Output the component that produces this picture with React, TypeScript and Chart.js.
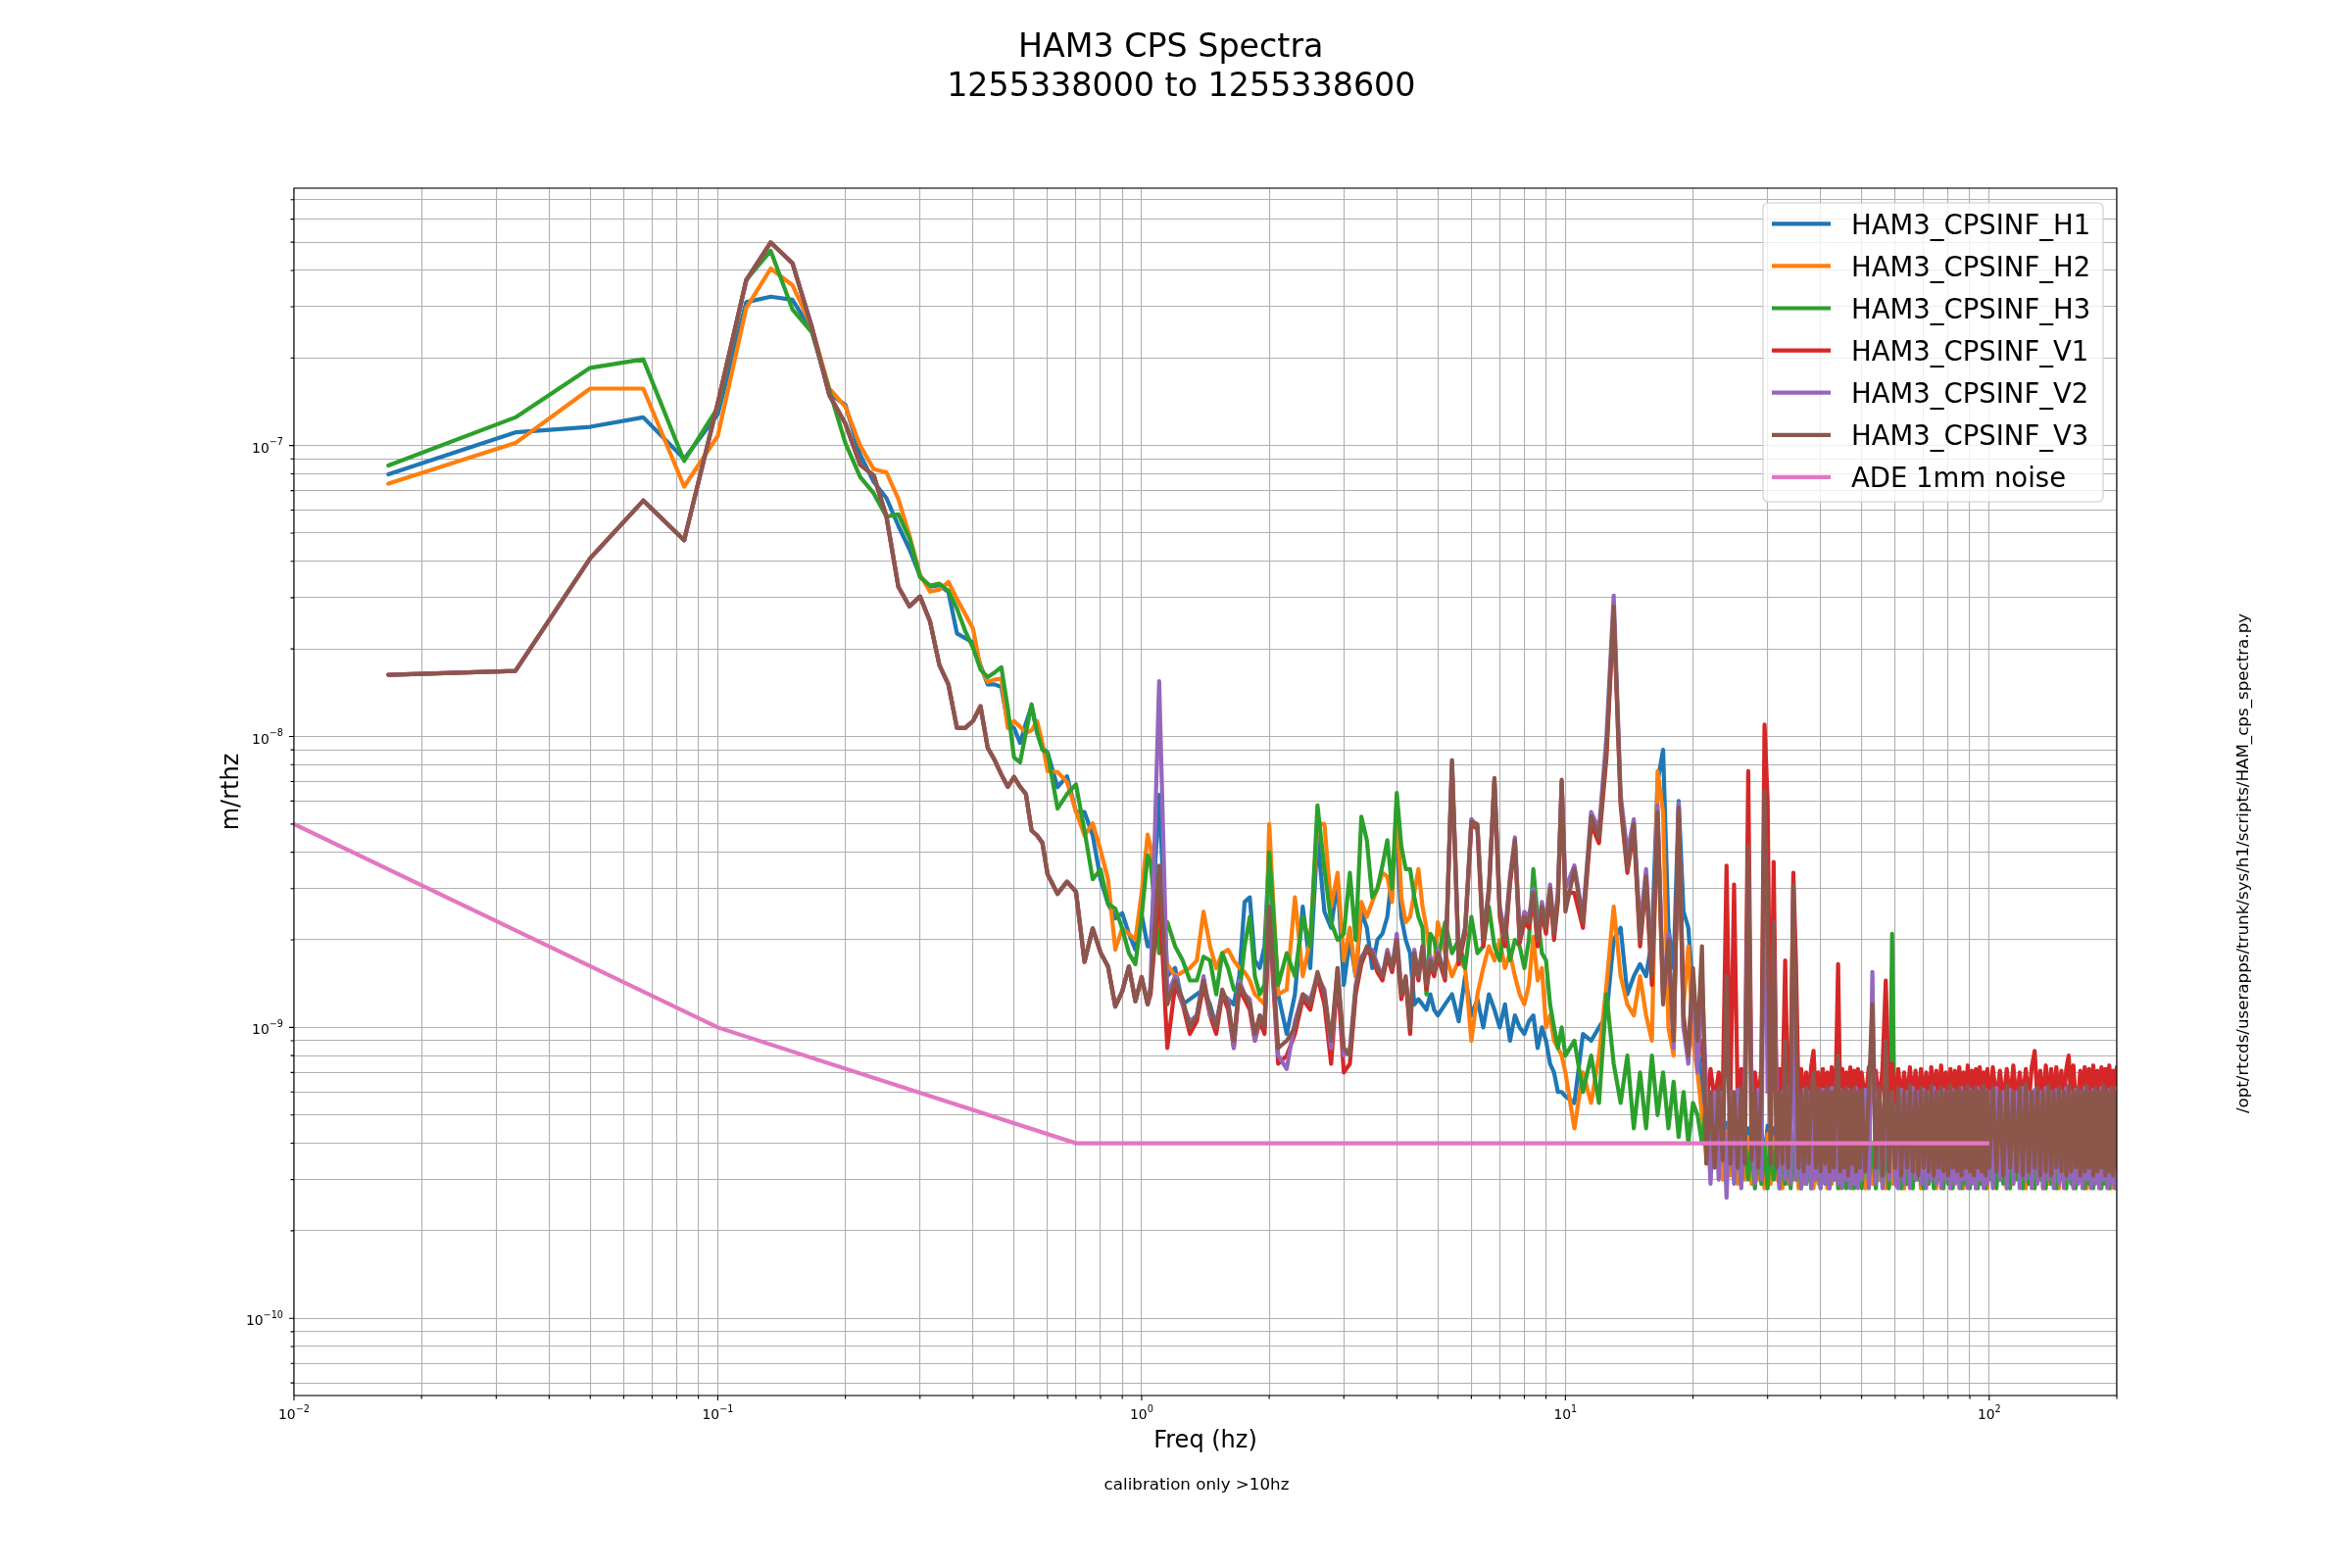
import React, { useEffect, useRef } from 'react';
import { Chart, registerables } from 'chart.js';

Chart.register(...registerables);

// ---------------- data (values in nm/rtHz, i.e. 1e-9 m/rtHz) ----------------
const FREQ_LOW = [
  0.0167, 0.0333, 0.05, 0.0667, 0.0833, 0.1, 0.1167, 0.1333, 0.15, 0.1667,
  0.1833, 0.2, 0.2167, 0.2333, 0.25, 0.2667, 0.2833, 0.3, 0.3167, 0.3333,
  0.35, 0.3667, 0.3833, 0.4, 0.4167, 0.4333, 0.45, 0.4667, 0.4833, 0.5,
  0.5167, 0.5333, 0.55, 0.5667, 0.5833, 0.6,
  0.6333, 0.6667, 0.7, 0.7333, 0.7667, 0.8, 0.8333, 0.8667, 0.9, 0.9333, 0.9667, 1.0, 1.0333,
];
const FREQ_MID = [
  1.05, 1.1, 1.15, 1.2, 1.25, 1.3, 1.35, 1.4, 1.45, 1.5,
  1.55, 1.6, 1.65, 1.7, 1.75, 1.8, 1.85, 1.9, 1.95, 2.0,
  2.1, 2.2, 2.3, 2.4, 2.5, 2.6, 2.7, 2.8, 2.9, 3.0,
  3.1, 3.2, 3.3, 3.4, 3.5, 3.6, 3.7, 3.8, 3.9, 4.0,
  4.1, 4.2, 4.3, 4.4, 4.5, 4.6, 4.7, 4.8, 4.9, 5.0,
  5.2, 5.4, 5.6, 5.8, 6.0, 6.2, 6.4, 6.6, 6.8, 7.0,
  7.2, 7.4, 7.6, 7.8, 8.0, 8.2, 8.4, 8.6, 8.8, 9.0,
  9.2, 9.4, 9.6, 9.8, 10.0,
];
const FREQ_HIGH = [
  10.5, 11, 11.5, 12, 12.5, 13, 13.5, 14, 14.5, 15,
  15.5, 16, 16.5, 17, 17.5, 18, 18.5, 19, 19.5, 20,
  20.5, 21, 21.5, 22, 22.5, 23, 23.5, 24, 24.5, 25,
  25.5, 26, 26.5, 27, 27.5, 28, 28.5, 29, 29.5, 30,
  30.5, 31, 31.5, 32, 32.5, 33, 33.5, 34, 34.5, 35,
  35.5, 36, 36.5, 37, 37.5, 38, 38.5, 39, 39.5, 40,
  40.5, 41, 41.5, 42, 42.5, 43, 43.5, 44, 44.5, 45,
  45.5, 46, 46.5, 47, 47.5, 48, 48.5, 49, 49.5, 50,
  51, 52, 53, 54, 55, 56, 57, 58, 59, 60,
  61, 62, 63, 64, 65, 66, 67, 68, 69, 70,
  71, 72, 73, 74, 75, 76, 77, 78, 79, 80,
  81, 82, 83, 84, 85, 86, 87, 88, 89, 90,
  91, 92, 93, 94, 95, 96, 97, 98, 99, 100,
  102, 104, 106, 108, 110, 112, 114, 116, 118, 120,
  122, 124, 126, 128, 130, 132, 134, 136, 138, 140,
  142, 144, 146, 148, 150, 152, 154, 156, 158, 160,
  162, 164, 166, 168, 170, 172, 174, 176, 178, 180,
  182, 184, 186, 188, 190, 192, 194, 196, 198, 200,
];

const H1_LOW = [
  79.7, 111, 116, 125, 90, 128, 311, 325, 317, 248,
  151, 138, 93, 75, 66, 53, 44, 35.6, 32.7, 33.1,
  31.4, 22.6, 21.8, 21, 17.6, 15.1, 15.1, 14.8, 11.1, 10.7,
  9.5, 11.1, 12.7, 10.3, 9.15, 8.8,
  6.7, 7.3, 5.5, 5.5, 4.57, 3.23, 2.66, 2.37, 2.47, 2.1, 1.85, 2.45, 1.9,
];
const H2_LOW = [
  74, 102, 157, 157, 72.3, 108, 297, 406, 356, 255,
  157, 136, 100, 83, 80.9, 65.5, 49, 36, 31.5, 32,
  34, 29.7, 26.4, 23.5, 17.3, 15.4, 15.7, 15.8, 10.7, 11.3,
  10.8, 10.3, 10.5, 11.3, 9.5, 7.6,
  7.55, 6.98, 5.54, 4.57, 5.03, 4.07, 3.23, 1.85, 2.19, 2.1, 2.0, 2.9, 4.6,
];
const H3_LOW = [
  85.4, 125, 185, 198, 88.5, 135, 371, 467, 294, 245,
  155, 102, 78, 68.5, 57, 58, 48, 35.3, 33, 33.5,
  31.7, 27.5, 23.1, 20.2, 17, 16, 16.6, 17.3, 12.5, 8.47,
  8.15, 10.3, 12.9, 10.3, 9.0, 8.8,
  5.65, 6.34, 6.85, 4.75, 3.23, 3.49, 2.66, 2.56, 2.19, 1.8, 1.65, 2.4, 3.9,
];
const V_LOW = [
  16.3, 16.8, 41, 64.7, 47.3, 140, 370, 499, 424, 255,
  149, 119, 86, 79, 57, 32.7, 28, 30.3, 24.9, 17.6,
  15.1, 10.7, 10.7, 11.3, 12.7, 9.15, 8.3, 7.4, 6.72, 7.26,
  6.72, 6.34, 4.75, 4.57, 4.31, 3.36,
  2.88, 3.17, 2.93, 1.68, 2.19, 1.81, 1.62, 1.18, 1.33, 1.62, 1.23, 1.49, 1.2,
];

const H1_MID = [
  1.9, 6.3, 1.5, 1.6, 1.2, 1.25, 1.3, 1.35, 1.2, 1.0,
  1.3, 1.25, 1.2, 1.5, 2.7, 2.8, 1.7, 1.6, 1.9, 4.0,
  1.3, 0.95, 1.3, 2.6, 1.6, 4.5, 2.5, 2.2, 3.2, 1.4,
  2.0, 1.5, 2.5, 2.2, 1.6, 2.0, 2.1, 2.4, 3.4, 4.4,
  2.4, 2.0, 1.8, 1.2, 1.25, 1.2, 1.15, 1.3, 1.15, 1.1,
  1.2, 1.3, 1.05, 1.5, 1.1, 1.25, 1.0, 1.3, 1.15, 1.0,
  1.2, 0.9, 1.1, 1.0, 0.95, 1.05, 1.1, 0.85, 1.0, 0.9,
  0.75, 0.7, 0.6, 0.6, 0.58,
];
const H2_MID = [
  4.2, 2.0, 1.65, 1.5, 1.55, 1.6, 1.7, 2.5, 1.9, 1.6,
  1.8, 1.85, 1.7, 1.6, 1.55, 1.45, 1.3, 1.25, 1.2, 5.0,
  1.3, 1.35, 2.8, 1.5, 2.0, 5.0, 5.0, 2.6, 3.4, 1.7,
  2.2, 1.5, 2.7, 2.4, 2.7, 3.0, 3.4, 3.3, 2.7, 6.0,
  2.8, 2.3, 2.4, 2.9, 3.5, 2.6, 2.2, 1.7, 1.6, 2.3,
  1.8, 1.5, 1.7, 1.6, 0.9, 1.3, 1.6, 1.9, 1.7, 2.0,
  1.6, 1.8, 1.5, 1.3, 1.2, 1.4, 2.05, 1.45, 1.6, 1.0,
  1.1, 0.9, 0.85, 0.8, 0.7,
];
const H3_MID = [
  3.7, 1.8, 2.3, 1.9, 1.7, 1.45, 1.45, 1.75, 1.7, 1.3,
  1.8, 1.6, 1.35, 1.3, 1.9, 2.4, 1.5, 1.3, 1.4, 4.0,
  1.4, 1.8, 1.5, 2.4, 1.9, 5.8, 3.5, 2.3, 2.0, 2.1,
  3.4, 2.0, 5.3, 4.4, 2.8, 3.0, 3.6, 4.4, 3.0, 6.4,
  4.2, 3.5, 3.5, 2.8, 2.4, 2.2, 1.3, 2.1, 2.0, 1.7,
  2.3, 1.8, 2.0, 1.6, 2.4, 1.8, 1.9, 2.6, 1.9, 1.7,
  2.3, 1.7, 2.0, 1.9, 1.6, 2.0, 3.5, 2.4, 1.8, 1.7,
  1.2, 1.0, 0.85, 1.0, 0.8,
];
const V1_MID = [
  1.3, 3.0, 0.85, 1.4, 1.2, 0.95, 1.05, 1.4, 1.1, 0.95,
  1.3, 1.15, 0.85, 1.35, 1.25, 1.15, 0.9, 1.05, 0.95, 2.4,
  0.75, 0.8, 0.95, 1.25, 1.15, 1.5, 1.2, 0.75, 1.5, 0.7,
  0.75, 1.3, 1.65, 1.85, 1.75, 1.55, 1.45, 1.75, 1.55, 1.9,
  1.25, 1.45, 0.95, 1.75, 1.45, 1.85, 1.35, 1.65, 1.5, 1.75,
  1.45, 8.0, 1.65, 2.1, 5.0, 4.8, 1.9, 2.9, 7.0, 2.4,
  1.9, 3.1, 4.3, 1.95, 2.3, 2.2, 2.8, 1.9, 2.5, 2.1,
  2.9, 2.0, 2.7, 6.9, 2.9,
];
const V2_MID = [
  1.4, 15.5, 1.3, 1.5, 1.2, 1.05, 1.1, 1.5, 1.1, 1.05,
  1.3, 1.25, 0.85, 1.45, 1.3, 1.25, 0.9, 1.1, 1.05, 2.5,
  0.8, 0.72, 1.05, 1.3, 1.25, 1.5, 1.35, 0.85, 1.6, 0.8,
  0.85, 1.4, 1.75, 1.85, 1.85, 1.65, 1.5, 1.85, 1.6, 2.1,
  1.35, 1.45, 1.05, 1.85, 1.5, 1.9, 1.45, 1.75, 1.6, 1.85,
  1.5, 8.2, 1.75, 2.2, 5.2, 4.9, 2.1, 3.0, 7.1, 2.6,
  2.1, 3.3, 4.5, 2.1, 2.5, 2.4, 3.0, 2.1, 2.7, 2.3,
  3.1, 2.2, 2.9, 7.0, 3.0,
];
const V3_MID = [
  1.35, 3.6, 1.2, 1.45, 1.25, 1.0, 1.1, 1.45, 1.15, 1.0,
  1.35, 1.2, 0.9, 1.4, 1.3, 1.2, 0.95, 1.1, 1.0, 2.6,
  0.85, 0.9, 1.0, 1.3, 1.2, 1.55, 1.3, 0.9, 1.6, 0.85,
  0.8, 1.35, 1.7, 1.9, 1.8, 1.6, 1.5, 1.8, 1.6, 2.0,
  1.3, 1.5, 1.0, 1.8, 1.5, 1.9, 1.4, 1.7, 1.55, 1.8,
  1.5, 8.3, 1.7, 2.2, 5.1, 5.0, 2.0, 3.0, 7.2, 2.5,
  2.0, 3.2, 4.4, 2.0, 2.4, 2.3, 2.9, 2.0, 2.6, 2.2,
  3.0, 2.1, 2.8, 7.1, 2.5,
];

const H1_HIGH = [
  0.55, 0.95, 0.9, 1.0, 1.1, 2.0, 2.2, 1.3, 1.5, 1.65,
  1.5, 2.0, 7.0, 9.0, 2.2, 1.6, 6.0, 2.5, 2.2, 1.3,
  0.9, 0.6, 0.42, 0.5, 0.38, 0.48, 0.36, 0.47, 0.34, 0.46,
  0.33, 0.47, 0.34, 0.45, 0.33, 0.46, 0.32, 0.45, 0.34, 0.46,
  0.33, 0.45, 0.32, 0.46, 0.33, 0.44, 0.32, 0.45, 0.33, 0.44,
  0.32, 0.45, 0.31, 0.44, 0.33, 0.45, 0.32, 0.44, 0.31, 0.45,
  0.32, 0.44, 0.33, 0.45, 0.31, 0.44, 0.32, 0.45, 0.3, 0.44,
  0.31, 0.45, 0.32, 0.44, 0.3, 0.45, 0.31, 0.44, 0.32, 0.45,
  0.31, 0.44, 0.32, 0.45, 0.3, 0.44, 0.31, 0.45, 0.32, 0.44,
  0.3, 0.45, 0.31, 0.44, 0.32, 0.45, 0.3, 0.44, 0.31, 0.45,
  0.32, 0.44, 0.3, 0.45, 0.31, 0.44, 0.32, 0.45, 0.3, 0.44,
  0.31, 0.45, 0.32, 0.44, 0.3, 0.45, 0.31, 0.44, 0.32, 0.45,
  0.3, 0.44, 0.31, 0.45, 0.32, 0.44, 0.3, 0.45, 0.31, 0.44,
  0.32, 0.45, 0.3, 0.44, 0.31, 0.45, 0.32, 0.44, 0.3, 0.45,
  0.31, 0.44, 0.32, 0.45, 0.3, 0.44, 0.31, 0.45, 0.32, 0.44,
  0.3, 0.45, 0.31, 0.44, 0.32, 0.45, 0.3, 0.44, 0.31, 0.45,
  0.32, 0.44, 0.3, 0.45, 0.31, 0.44, 0.32, 0.45, 0.3, 0.44,
  0.31, 0.45, 0.32, 0.44, 0.3, 0.45, 0.31, 0.44, 0.32, 0.45,
];
const H2_HIGH = [
  0.45, 0.7, 0.55, 0.8, 1.4, 2.6, 1.5, 1.2, 1.1, 1.5,
  1.1, 0.9, 7.6, 5.5, 1.0, 0.8, 5.3, 1.2, 1.9, 0.9,
  0.7, 0.5, 0.36, 0.48, 0.33, 0.45, 0.3, 0.44, 0.31, 0.43,
  0.29, 0.44, 0.3, 0.42, 0.29, 0.43, 0.3, 0.42, 0.28, 0.43,
  0.29, 0.42, 0.3, 0.43, 0.28, 0.42, 0.29, 0.43, 0.3, 0.42,
  0.28, 0.43, 0.29, 0.42, 0.3, 0.43, 0.28, 0.42, 0.29, 0.43,
  0.3, 0.42, 0.28, 0.43, 0.29, 0.42, 0.3, 0.43, 0.28, 0.42,
  0.29, 0.43, 0.3, 0.42, 0.28, 0.43, 0.29, 0.42, 0.3, 0.43,
  0.28, 0.42, 0.29, 0.43, 0.3, 0.42, 0.28, 0.43, 0.29, 0.42,
  0.3, 0.43, 0.28, 0.42, 0.29, 0.43, 0.3, 0.42, 0.28, 0.43,
  0.29, 0.42, 0.3, 0.43, 0.28, 0.42, 0.29, 0.43, 0.3, 0.42,
  0.28, 0.43, 0.29, 0.42, 0.3, 0.43, 0.28, 0.42, 0.29, 0.43,
  0.3, 0.42, 0.28, 0.43, 0.29, 0.42, 0.3, 0.43, 0.28, 0.42,
  0.29, 0.43, 0.3, 0.42, 0.28, 0.43, 0.29, 0.42, 0.3, 0.43,
  0.28, 0.42, 0.29, 0.43, 0.3, 0.42, 0.28, 0.43, 0.29, 0.42,
  0.3, 0.43, 0.28, 0.42, 0.29, 0.43, 0.3, 0.42, 0.28, 0.43,
  0.29, 0.42, 0.3, 0.43, 0.28, 0.42, 0.29, 0.43, 0.3, 0.42,
  0.28, 0.43, 0.29, 0.42, 0.3, 0.43, 0.28, 0.42, 0.29, 0.43,
];
const H3_HIGH = [
  0.9, 0.6, 0.8, 0.55, 1.3, 0.75, 0.55, 0.8, 0.45, 0.7,
  0.45, 0.8, 0.5, 0.7, 0.45, 0.65, 0.42, 0.6, 0.4, 0.55,
  0.5, 0.4, 0.55, 0.36, 0.5, 0.33, 0.45, 0.31, 0.42, 0.3,
  0.41, 0.29, 0.42, 0.3, 0.4, 0.28, 0.41, 0.29, 0.4, 0.28,
  0.41, 0.3, 0.4, 0.28, 0.41, 0.29, 0.4, 0.28, 0.41, 0.3,
  0.4, 0.28, 0.41, 0.29, 0.4, 0.28, 0.41, 0.3, 0.4, 0.28,
  0.41, 0.29, 0.4, 0.28, 0.41, 0.3, 0.4, 0.28, 0.41, 0.29,
  0.4, 0.28, 0.41, 0.3, 0.4, 0.28, 0.41, 0.29, 0.4, 0.28,
  0.41, 0.3, 0.4, 0.28, 0.41, 0.29, 0.4, 0.28, 2.1, 0.3,
  0.4, 0.28, 0.41, 0.29, 0.4, 0.28, 0.41, 0.3, 0.4, 0.28,
  0.41, 0.29, 0.4, 0.28, 0.41, 0.3, 0.4, 0.28, 0.41, 0.29,
  0.4, 0.28, 0.41, 0.3, 0.4, 0.28, 0.41, 0.29, 0.4, 0.28,
  0.41, 0.3, 0.4, 0.28, 0.41, 0.29, 0.4, 0.28, 0.41, 0.3,
  0.4, 0.28, 0.41, 0.29, 0.4, 0.28, 0.41, 0.3, 0.4, 0.28,
  0.41, 0.29, 0.4, 0.28, 0.41, 0.3, 0.4, 0.28, 0.41, 0.29,
  0.4, 0.28, 0.41, 0.3, 0.4, 0.28, 0.41, 0.29, 0.4, 0.28,
  0.41, 0.3, 0.4, 0.28, 0.41, 0.29, 0.4, 0.28, 0.41, 0.3,
  0.4, 0.28, 0.41, 0.29, 0.4, 0.28, 0.41, 0.3, 0.4, 0.28,
];
const V1_HIGH = [
  2.9, 2.2, 5.0, 4.3, 8.5, 27, 5.8, 3.4, 4.8, 1.9,
  3.2, 1.4, 5.3, 1.3, 1.9, 0.95, 5.5, 1.0, 0.85, 1.5,
  0.8, 0.9, 0.55, 0.72, 0.56, 0.7, 0.55, 3.6, 0.56, 3.1,
  0.55, 0.72, 0.56, 7.6, 0.55, 0.7, 0.56, 0.72, 11.0, 6.0,
  0.55, 3.7, 0.56, 0.72, 0.55, 1.7, 0.56, 0.7, 3.4, 1.65,
  0.55, 0.72, 0.56, 0.7, 0.55, 0.73, 0.83, 0.56, 0.7, 0.55,
  0.72, 0.56, 0.7, 0.55, 0.73, 0.56, 0.71, 1.65, 0.55, 0.72,
  0.56, 0.7, 0.55, 0.73, 0.56, 0.71, 0.55, 0.72, 0.56, 0.7,
  0.55, 0.73, 0.56, 0.71, 0.55, 0.72, 1.45, 0.56, 0.75, 0.55,
  0.72, 0.56, 0.7, 0.55, 0.73, 0.56, 0.71, 0.55, 0.72, 0.56,
  0.7, 0.55, 0.73, 0.56, 0.71, 0.55, 0.74, 0.56, 0.7, 0.55,
  0.72, 0.56, 0.71, 0.55, 0.73, 0.56, 0.7, 0.55, 0.74, 0.56,
  0.71, 0.55, 0.72, 0.56, 0.73, 0.55, 0.7, 0.56, 0.72, 0.55,
  0.73, 0.56, 0.71, 0.55, 0.72, 0.56, 0.74, 0.55, 0.7, 0.56,
  0.72, 0.55, 0.73, 0.83, 0.56, 0.71, 0.55, 0.74, 0.56, 0.72,
  0.55, 0.73, 0.56, 0.71, 0.55, 0.72, 0.8, 0.56, 0.74, 0.55,
  0.56, 0.71, 0.55, 0.73, 0.56, 0.72, 0.55, 0.74, 0.56, 0.71,
  0.55, 0.73, 0.56, 0.72, 0.55, 0.74, 0.56, 0.71, 0.55, 0.73,
];
const V2_HIGH = [
  3.6, 2.4, 5.5, 4.8, 10.0, 30.5, 6.3, 4.0, 5.2, 2.2,
  3.5, 1.6, 5.8, 1.3, 2.1, 0.85, 5.9, 1.0, 0.75, 1.5,
  0.7, 1.5, 0.6, 0.29, 0.6, 0.3, 0.6, 0.26, 0.6, 0.29,
  0.61, 0.28, 0.6, 3.8, 0.6, 0.29, 0.61, 0.3, 5.5, 0.6,
  0.6, 2.0, 0.61, 0.28, 0.6, 0.3, 0.62, 0.29, 3.0, 0.3,
  0.6, 0.28, 0.61, 0.29, 0.6, 0.28, 0.62, 0.3, 0.6, 0.28,
  0.61, 0.29, 0.6, 0.28, 0.62, 0.3, 0.6, 0.29, 0.61, 0.28,
  0.6, 0.3, 0.61, 0.28, 0.6, 0.29, 0.62, 0.28, 0.6, 0.3,
  0.61, 0.28, 1.55, 0.29, 0.6, 0.28, 0.62, 0.3, 0.6, 0.29,
  0.28, 0.61, 0.29, 0.6, 0.28, 0.62, 0.3, 0.6, 0.29, 0.61,
  0.28, 0.6, 0.3, 0.62, 0.29, 0.6, 0.28, 0.61, 0.3, 0.6,
  0.28, 0.61, 0.29, 0.6, 0.28, 0.62, 0.3, 0.6, 0.28, 0.61,
  0.29, 0.6, 0.28, 0.62, 0.3, 0.6, 0.28, 0.61, 0.29, 0.6,
  0.28, 0.62, 0.3, 0.6, 0.28, 0.61, 0.29, 0.6, 0.28, 0.62,
  0.3, 0.6, 0.28, 0.61, 0.29, 0.6, 0.28, 0.62, 0.3, 0.6,
  0.28, 0.61, 0.29, 0.6, 0.28, 0.62, 0.3, 0.6, 0.28, 0.61,
  0.29, 0.6, 0.28, 0.62, 0.3, 0.6, 0.28, 0.61, 0.29, 0.6,
  0.28, 0.62, 0.3, 0.6, 0.28, 0.61, 0.29, 0.6, 0.28, 0.62,
];
const V3_HIGH = [
  3.5, 2.3, 5.3, 4.5, 9.0, 28, 6.0, 3.5, 5.0, 2.0,
  3.3, 1.5, 5.5, 1.2, 2.0, 0.9, 5.7, 1.1, 0.8, 1.6,
  0.9, 1.9, 0.34, 0.6, 0.33, 0.62, 0.35, 1.5, 0.34, 0.6,
  0.33, 0.62, 0.34, 4.2, 0.35, 0.6, 0.33, 0.62, 6.5, 2.4,
  0.34, 2.3, 0.33, 0.6, 0.34, 0.9, 0.33, 0.62, 3.1, 1.1,
  0.33, 0.6, 0.32, 0.62, 0.34, 0.6, 0.7, 0.33, 0.62, 0.32,
  0.6, 0.34, 0.62, 0.32, 0.6, 0.33, 0.61, 0.8, 0.32, 0.6,
  0.33, 0.62, 0.31, 0.6, 0.34, 0.62, 0.32, 0.6, 0.33, 0.61,
  0.32, 0.6, 1.2, 0.33, 0.62, 0.31, 0.9, 0.32, 0.6, 0.33,
  0.62, 0.31, 0.6, 0.33, 0.63, 0.32, 0.6, 0.31, 0.62, 0.33,
  0.6, 0.32, 0.63, 0.31, 0.6, 0.33, 0.62, 0.32, 0.6, 0.31,
  0.63, 0.33, 0.6, 0.32, 0.62, 0.31, 0.6, 0.33, 0.63, 0.32,
  0.6, 0.31, 0.62, 0.33, 0.6, 0.32, 0.63, 0.31, 0.6, 0.33,
  0.62, 0.32, 0.6, 0.31, 0.63, 0.33, 0.6, 0.32, 0.62, 0.31,
  0.64, 0.32, 0.6, 0.33, 0.62, 0.31, 0.6, 0.32, 0.63, 0.31,
  0.6, 0.33, 0.62, 0.32, 0.6, 0.31, 0.63, 0.32, 0.6, 0.33,
  0.62, 0.31, 0.6, 0.32, 0.63, 0.33, 0.6, 0.31, 0.62, 0.32,
  0.6, 0.33, 0.63, 0.31, 0.6, 0.32, 0.62, 0.31, 0.6, 0.33,
];

const ADE_FREQ = [0.01, 0.1, 0.7, 100];
const ADE_VALUES = [5e-9, 1e-9, 4e-10, 4e-10];

const SERIES_LABELS = [
  'HAM3_CPSINF_H1', 'HAM3_CPSINF_H2', 'HAM3_CPSINF_H3',
  'HAM3_CPSINF_V1', 'HAM3_CPSINF_V2', 'HAM3_CPSINF_V3', 'ADE 1mm noise',
];
const SERIES_COLORS = ['#1f77b4', '#ff7f0e', '#2ca02c', '#d62728', '#9467bd', '#8c564b', '#e377c2'];

const TITLE_LINES = ['HAM3 CPS Spectra ', ' 1255338000 to 1255338600'];
const X_LABEL = 'Freq (hz)';
const Y_LABEL = 'm/rthz';
const FOOTNOTE = 'calibration only >10hz';
const SIDE_NOTE = '/opt/rtcds/userapps/trunk/sys/h1/scripts/HAM_cps_spectra.py';

const X_DECADES = [0.01, 0.1, 1, 10, 100];
const X_DECADE_EXP = ['\u22122', '\u22121', '0', '1', '2'];
const Y_DECADES = [1e-11, 1e-10, 1e-9, 1e-8, 1e-7];
const Y_DECADE_EXP = ['\u221211', '\u221210', '\u22129', '\u22128', '\u22127'];
const MULTIPLES = [1, 2, 3, 4, 5, 6, 7, 8, 9];

const X_MIN = 0.01;
const X_MAX = 200;
const Y_MIN = 5.43e-11;
const Y_MAX = 7.67e-7;
const LINE_W = 4.2;

// ---------------- helpers ----------------
const FREQ = [...FREQ_LOW, ...FREQ_MID, ...FREQ_HIGH];
const NM = 1e-9;
const toPoints = (vals: number[]) => vals.map((v, i) => ({ x: FREQ[i], y: v * NM }));

const SERIES_VALUES = [
  [...H1_LOW, ...H1_MID, ...H1_HIGH],
  [...H2_LOW, ...H2_MID, ...H2_HIGH],
  [...H3_LOW, ...H3_MID, ...H3_HIGH],
  [...V_LOW, ...V1_MID, ...V1_HIGH],
  [...V_LOW, ...V2_MID, ...V2_HIGH],
  [...V_LOW, ...V3_MID, ...V3_HIGH],
];

const gridTicks = (decades: number[], min: number, max: number) => {
  const out: { v: number; major: boolean; d: number }[] = [];
  decades.forEach((d, di) => {
    MULTIPLES.forEach((m) => {
      const v = d * m;
      if (v >= min * 0.9999 && v <= max * 1.0001) out.push({ v, major: m === 1, d: di });
    });
  });
  return out;
};
const X_GRID = gridTicks(X_DECADES, X_MIN, X_MAX);
const Y_GRID = gridTicks(Y_DECADES, Y_MIN, Y_MAX);

const FONT = '"DejaVu Sans", "Liberation Sans", sans-serif';
const font = (px: number) => `${px}px ${FONT}`;

function drawPow(ctx: CanvasRenderingContext2D, exp: string, x: number, baseY: number, align: 'center' | 'right') {
  ctx.font = font(13.9);
  const wb = ctx.measureText('10').width;
  ctx.font = font(9.7);
  const we = ctx.measureText(exp).width;
  const total = wb + we;
  const x0 = align === 'center' ? x - total / 2 : x - total;
  ctx.textAlign = 'left';
  ctx.textBaseline = 'alphabetic';
  ctx.font = font(13.9);
  ctx.fillText('10', x0, baseY);
  ctx.font = font(9.7);
  ctx.fillText(exp, x0 + wb, baseY - 7.5);
}

const overlayPlugin = {
  id: 'mplOverlay',
  afterDraw(chart: any) {
    const ctx: CanvasRenderingContext2D = chart.ctx;
    const a = chart.chartArea;
    const xs = chart.scales.x;
    const ys = chart.scales.y;
    ctx.save();

    // spines
    ctx.strokeStyle = '#000';
    ctx.lineWidth = 1.1;
    ctx.strokeRect(a.left, a.top, a.right - a.left, a.bottom - a.top);

    // tick marks
    ctx.beginPath();
    X_GRID.forEach((t) => {
      const px = xs.getPixelForValue(t.v);
      ctx.moveTo(px, a.bottom);
      ctx.lineTo(px, a.bottom + (t.major ? 5 : 3.5));
    });
    Y_GRID.forEach((t) => {
      const py = ys.getPixelForValue(t.v);
      ctx.moveTo(a.left, py);
      ctx.lineTo(a.left - (t.major ? 5 : 3.5), py);
    });
    ctx.stroke();

    // tick labels
    ctx.fillStyle = '#000';
    X_GRID.filter((t) => t.major).forEach((t) => {
      drawPow(ctx, X_DECADE_EXP[t.d], xs.getPixelForValue(t.v), a.bottom + 24, 'center');
    });
    Y_GRID.filter((t) => t.major).forEach((t) => {
      drawPow(ctx, Y_DECADE_EXP[t.d], a.left - 11, ys.getPixelForValue(t.v) + 7, 'right');
    });

    // axis labels
    ctx.font = font(24);
    ctx.textAlign = 'center';
    ctx.textBaseline = 'alphabetic';
    ctx.fillText(X_LABEL, (a.left + a.right) / 2, 1477);
    ctx.save();
    ctx.translate(243, (a.top + a.bottom) / 2);
    ctx.rotate(-Math.PI / 2);
    ctx.fillText(Y_LABEL, 0, 0);
    ctx.restore();

    // title
    ctx.font = font(33.3);
    ctx.fillText(TITLE_LINES[0], 1200, 58);
    ctx.fillText(TITLE_LINES[1], 1200, 98);

    // footnote + side note
    ctx.font = font(16.7);
    ctx.fillText(FOOTNOTE, 1221, 1520);
    ctx.save();
    ctx.translate(2294, 881);
    ctx.rotate(-Math.PI / 2);
    ctx.fillText(SIDE_NOTE, 0, 0);
    ctx.restore();

    // legend
    const lx = 1799, ly = 207, lw = 347, lh = 305;
    ctx.beginPath();
    (ctx as any).roundRect(lx, ly, lw, lh, 5);
    ctx.fillStyle = 'rgba(255,255,255,0.8)';
    ctx.fill();
    ctx.strokeStyle = '#cccccc';
    ctx.lineWidth = 1.1;
    ctx.stroke();
    ctx.font = font(27.5);
    ctx.textAlign = 'left';
    SERIES_LABELS.forEach((lab, i) => {
      const cy = 228.3 + i * 43.1;
      ctx.beginPath();
      ctx.strokeStyle = SERIES_COLORS[i];
      ctx.lineWidth = LINE_W;
      ctx.lineCap = 'butt';
      ctx.moveTo(1808, cy);
      ctx.lineTo(1868, cy);
      ctx.stroke();
      ctx.fillStyle = '#000';
      ctx.fillText(lab, 1889, cy + 10.5);
    });

    ctx.restore();
  },
};

export default function App() {
  const ref = useRef<HTMLCanvasElement | null>(null);

  useEffect(() => {
    const canvas = ref.current;
    if (!canvas) return;
    const datasets: any[] = SERIES_VALUES.map((vals, i) => ({
      label: SERIES_LABELS[i],
      data: toPoints(vals),
      borderColor: SERIES_COLORS[i],
      backgroundColor: SERIES_COLORS[i],
      borderWidth: LINE_W,
      pointRadius: 0,
      tension: 0,
      fill: false,
      borderJoinStyle: 'round',
      borderCapStyle: 'round',
      clip: 0,
      order: 7 - i,
    }));
    datasets.push({
      label: SERIES_LABELS[6],
      data: ADE_FREQ.map((f, i) => ({ x: f, y: ADE_VALUES[i] })),
      borderColor: SERIES_COLORS[6],
      backgroundColor: SERIES_COLORS[6],
      borderWidth: LINE_W,
      pointRadius: 0,
      tension: 0,
      fill: false,
      clip: 0,
      order: 0,
    });

    const chart = new Chart(canvas, {
      type: 'line',
      data: { datasets },
      options: {
        animation: false,
        responsive: false,
        devicePixelRatio: 1,
        events: [],
        layout: { padding: { left: 300, right: 240, top: 192, bottom: 176 } },
        plugins: {
          legend: { display: false },
          title: { display: false },
          tooltip: { enabled: false },
        },
        scales: {
          x: {
            type: 'logarithmic',
            position: 'bottom',
            min: X_MIN,
            max: X_MAX,
            afterBuildTicks: (s: any) => { s.ticks = X_GRID.map((t) => ({ value: t.v })); },
            afterFit: (s: any) => { s.height = 0; },
            ticks: { display: false },
            grid: { color: '#b0b0b0', lineWidth: 1.1, drawTicks: false },
            border: { display: false },
          },
          y: {
            type: 'logarithmic',
            position: 'left',
            min: Y_MIN,
            max: Y_MAX,
            afterBuildTicks: (s: any) => { s.ticks = Y_GRID.map((t) => ({ value: t.v })); },
            afterFit: (s: any) => { s.width = 0; },
            ticks: { display: false },
            grid: { color: '#b0b0b0', lineWidth: 1.1, drawTicks: false },
            border: { display: false },
          },
        },
      } as any,
      plugins: [overlayPlugin],
    });
    return () => chart.destroy();
  }, []);

  return (
    <div style={{ position: 'fixed', left: 0, top: 0, width: 2400, height: 1600, background: '#ffffff' }}>
      <canvas ref={ref} width={2400} height={1600} style={{ width: 2400, height: 1600, display: 'block' }} />
    </div>
  );
}
